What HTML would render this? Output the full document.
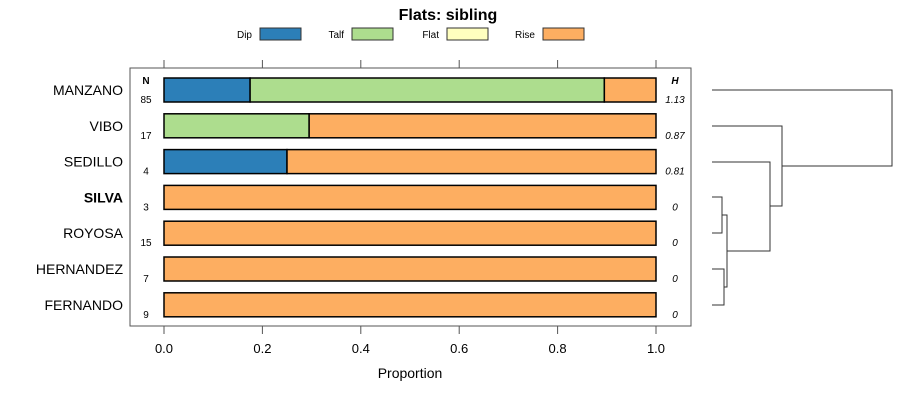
<!DOCTYPE html>
<html><head><meta charset="utf-8"><style>
body{margin:0;background:#fff;font-family:"Liberation Sans",sans-serif}
svg text{font-family:"Liberation Sans",sans-serif}
</style></head><body>
<svg id="c" width="900" height="400" xmlns="http://www.w3.org/2000/svg">
<text x="448" y="20" text-anchor="middle" font-size="16" font-weight="bold">Flats: sibling</text>
<g id="legend"></g>
<rect x="130" y="68" width="561" height="258" fill="none" stroke="#555"/>
<g id="axes"></g>
<text x="410" y="378" text-anchor="middle" font-size="14">Proportion</text>
<text x="146" y="84" text-anchor="middle" font-size="10" font-weight="bold">N</text>
<text x="675" y="84" text-anchor="middle" font-size="10" font-weight="bold" font-style="italic">H</text>
<g id="bars"></g>
<g fill="none" stroke="#333" stroke-width="1">
<path d="M712 90H892V166H782"/>
<path d="M712 126H782V206H770"/>
<path d="M712 162H770V251H727"/>
<path d="M712 197H722V233H712M722 215H727V287H724M712 269H724V305H712"/>
</g>
</svg>
<script>
const categories=["MANZANO","VIBO","SEDILLO","SILVA","ROYOSA","HERNANDEZ","FERNANDO"];
const nValues=[85,17,4,3,15,7,9];
const hLabels=["1.13","0.87","0.81","0","0","0","0"];
const seriesNames=["Dip","Talf","Flat","Rise"];
const dip=[0.175,0,0.25,0,0,0,0];
const talf=[0.72,0.295,0,0,0,0,0];
const flat=[0,0,0,0,0,0,0];
const rise=[0.105,0.705,0.75,1,1,1,1];
const ticks=[0,0.2,0.4,0.6,0.8,1.0];
const tickLabels=["0.0","0.2","0.4","0.6","0.8","1.0"];
const colors=["#2c7fb8","#addd8e","#ffffbf","#fdae61"];
const NS="http://www.w3.org/2000/svg";
const xs=v=>164+v*492;
const ys=i=>90+i*35.8;
function mk(t,a,p){const e=document.createElementNS(NS,t);for(const k in a)e.setAttribute(k,a[k]);p.appendChild(e);return e;}
const lg=document.getElementById('legend');
const legX=[260,352,447,543];
seriesNames.forEach((s,i)=>{
 const t=mk('text',{x:legX[i]-8,y:38,'text-anchor':'end','font-size':10},lg);t.textContent=s;
 
 
 const r=mk('rect',{x:legX[i],y:28,width:41,height:12,fill:colors[i],stroke:'#333'},lg);
 
 
});
const ax=document.getElementById('axes');
ticks.forEach((t,i)=>{
 const x=xs(t);
 const l1=mk('line',{x1:x,x2:x,y1:60,y2:68,stroke:'#555'},ax);
 
 
 const l2=mk('line',{x1:x,x2:x,y1:326,y2:334,stroke:'#555'},ax);
 
 
 const tx=mk('text',{x:x,y:353,'text-anchor':'middle','font-size':13},ax);tx.textContent=tickLabels[i];
 
 
});
const bg=document.getElementById('bars');
const series=[dip,talf,flat,rise];
categories.forEach((c,i)=>{
 const y=ys(i);
 const lab=mk('text',{x:123,y:y+5,'text-anchor':'end','font-size':14,'font-weight':c==="SILVA"?'bold':'normal'},bg);lab.textContent=c;
 
 
 const n=mk('text',{x:146,y:y+13,'text-anchor':'middle','font-size':10},bg);n.textContent=nValues[i];
 
 
 const h=mk('text',{x:675,y:y+13,'text-anchor':'middle','font-size':10,'font-style':'italic'},bg);h.textContent=hLabels[i];
 
 
 let cum=0;
 series.forEach((s,k)=>{
  const v=s[i];if(v<=0)return;
  const r=mk('rect',{x:xs(cum),y:y-12,width:xs(cum+v)-xs(cum),height:24,fill:colors[k],stroke:'#000','stroke-width':1.5},bg);
  
  
  cum+=v;
 });
});
</script>
</body></html>
